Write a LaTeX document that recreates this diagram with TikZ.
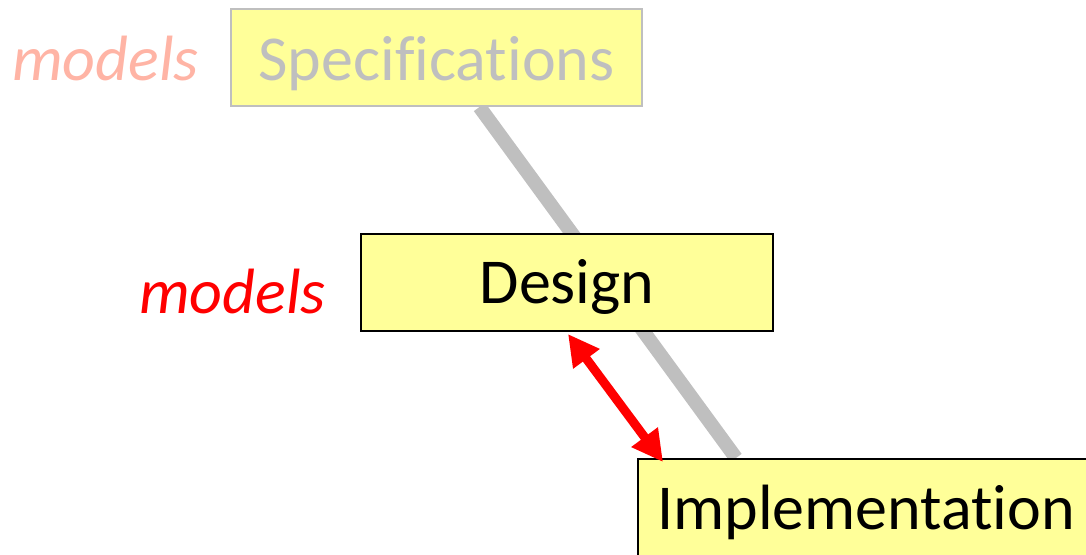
\documentclass[tikz,border=0pt]{standalone}
\usepackage{fontspec}
\setmainfont{Carlito}[Ligatures={NoCommon,NoContextual}]
\usetikzlibrary{calc,arrows.meta,backgrounds}
\definecolor{boxyellow}{RGB}{255,255,153}
\definecolor{lightgray}{RGB}{191,191,191}
\definecolor{palered}{RGB}{255,180,165}
\definecolor{strongred}{RGB}{255,0,0}
\tikzset{
  stagebox/.style={draw, line width=2pt, fill=boxyellow, rectangle, inner sep=0pt,
    font=\fontsize{64}{76}\selectfont},
  modelslabel/.style={font=\fontsize{64}{76}\selectfont\itshape, inner sep=0pt},
}
\begin{document}
\begin{tikzpicture}[x=1pt,y=-1pt]
\useasboundingbox (0,0) rectangle (1086,554);
\clip (0,0) rectangle (1086,554);
% nodes
\node[stagebox, draw=lightgray, text=lightgray, minimum width=411pt, minimum height=97pt, text height=47pt, text depth=2pt] (spec) at (436.5,57.5) {Specifications};
\node[stagebox, draw=black, minimum width=412pt, minimum height=97pt, text height=45pt, text depth=4pt] (design) at (567,282.5) {Design};
\node[stagebox, draw=black, minimum width=456pt, minimum height=108pt, text height=40pt, text depth=8pt, anchor=north west] (impl) at (637,458) {Implementation};
% gray connector (behind design)
\coordinate (g1) at ($(spec.south)+(43,0)$);
\coordinate (g2) at ($(impl.north west)+(99,0)$);
\begin{pgfonlayer}{background}
\draw[lightgray, line width=14pt] (g1) -- (g2);
\end{pgfonlayer}
% labels
\node[modelslabel, text=palered, anchor=base east] (m1) at ($(spec.base west)+(-31,0)$) {models};
\node[modelslabel, text=strongred, anchor=base east] (m2) at ($(design.base west)+(-34,10)$) {models};
% red arrow
\coordinate (r1) at ($(design.south)+(1,2)$);
\coordinate (r2) at ($(impl.north west)+(26,4)$);
\draw[strongred, line width=9pt, {Triangle[length=31pt,width=31pt]}-{Triangle[length=31pt,width=31pt]}] (r1) -- (r2);
\end{tikzpicture}
\end{document}
